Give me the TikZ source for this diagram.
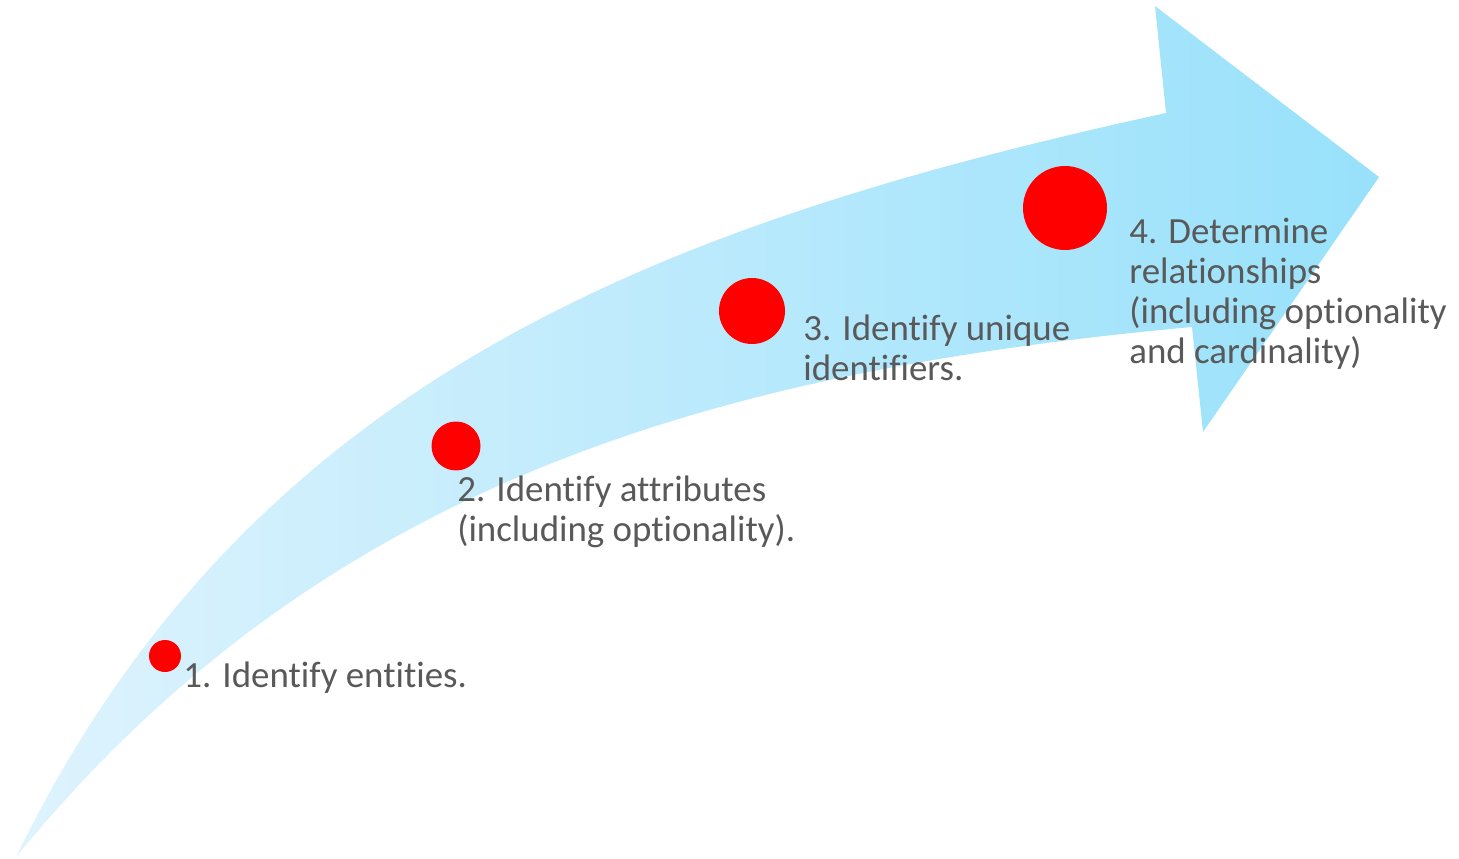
\documentclass[tikz,border=0pt]{standalone}
\usepackage{fontspec}
\setmainfont{Carlito}[Ligatures=NoCommon]
\usepackage{tikz}
\usetikzlibrary{calc}
\definecolor{labelgray}{RGB}{89,89,89}
\definecolor{arrowlight}{RGB}{222,243,253}
\definecolor{arrowdark}{RGB}{152,225,251}
\definecolor{dotred}{RGB}{255,0,0}

\begin{document}
\begin{tikzpicture}[
    x=0.02cm, y=-0.02cm,
    step dot/.style={circle, fill=dotred, inner sep=0pt},
    step text/.style={anchor=base west, align=left, inner sep=0pt, color=labelgray,
        font=\fontsize{21}{22.7}\selectfont},
    ]

    \useasboundingbox (0,0) rectangle (1459,858);
    % define arrow outline
    \coordinate (tail) at (16,857);
    \coordinate (n1) at (1166,113);
    \coordinate (b1) at (1155,6);
    \coordinate (tip) at (1379,177);
    \coordinate (b2) at (1203,432);
    \coordinate (n2) at (1192,327);
    % curved arrow
    \shade[left color=arrowlight, right color=arrowdark]
        (tail) .. controls (248,380) and (658,224) .. (n1)
        -- (b1) -- (tip) -- (b2) -- (n2)
        .. controls (700,372) and (316,490) .. (tail) -- cycle;
    % dots
    \node[step dot, minimum size=0.64cm] (d1) at (165,656) {};
    \node[step dot, minimum size=0.98cm] (d2) at (456,446) {};
    \node[step dot, minimum size=1.32cm] (d3) at (752,311) {};
    \node[step dot, minimum size=1.68cm] (d4) at (1065,208) {};
    % labels (base = last line)
    \node[step text] (t1) at (183,687) {1. Identify entities.};
    \node[step text] (t2) at (457,541) {2. Identify attributes\\(including optionality).};
    \node[step text] (t3) at (803,380) {3. Identify unique\\identifiers.};
    \node[step text] (t4) at (1129,363) {4. Determine\\relationships\\(including optionality\\and cardinality)};
\end{tikzpicture}
\end{document}
